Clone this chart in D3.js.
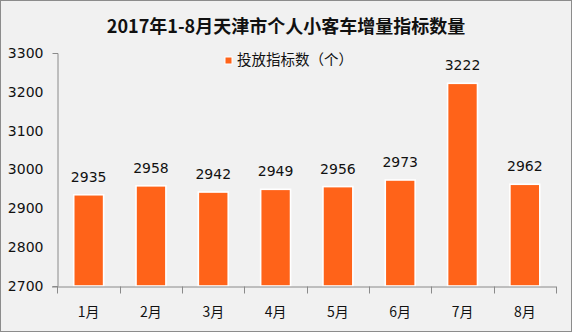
<!DOCTYPE html>
<html lang="zh">
  <head>
    <meta charset="utf-8">
    <title>2017年1-8月天津市个人小客车增量指标数量</title>
    <script type="text/javascript" src="https://cdn.jsdelivr.net/npm/d3@7"></script>
    <style type="text/css">
      body { margin: 0; }
      text { font-family: "DejaVu Sans", "Noto Sans CJK SC", sans-serif; fill: #111; }
      .cjk { font-family: "Noto Sans CJK SC", sans-serif; }
      .axis path, .axis line { stroke: #8a8a8a; }
    </style>
  </head>
  <body>
    <script type="text/javascript">

      //Data
      var months = ["1月", "2月", "3月", "4月", "5月", "6月", "7月", "8月"];
      var quota = [2935, 2958, 2942, 2949, 2956, 2973, 3222, 2962];
      var yTicks = [2700, 2800, 2900, 3000, 3100, 3200, 3300];

      var w = 572;
      var h = 332;
      var barColor = "#ff6319";

      var svg = d3.select("body")
            .append("svg")
            .attr("width", w)
            .attr("height", h);

      //Background and frame
      svg.append("rect")
         .attr("x", 0.5).attr("y", 0.5)
         .attr("width", w - 1).attr("height", h - 1)
         .attr("fill", "#f1f1f1")
         .attr("stroke", "#8c8c8c");

      //Title
      svg.append("text")
         .attr("class", "cjk")
         .attr("x", 286)
         .attr("y", 33)
         .attr("text-anchor", "middle")
         .style("font-size", "18px")
         .style("font-weight", "bold")
         .text("2017年1-8月天津市个人小客车增量指标数量");

      //Scales
      var xScale = d3.scaleBand()
               .domain(months)
               .range([57.5, 556])
               .paddingInner(0.52)
               .paddingOuter(0.26);

      var yScale = d3.scaleLinear()
               .domain([2700, 3300])
               .range([286, 53]);

      //Bars
      svg.selectAll("rect.bar")
         .data(quota)
         .enter()
         .append("rect")
         .attr("class", "bar")
         .attr("x", function(d, i) { return xScale(months[i]); })
         .attr("y", function(d) { return yScale(d); })
         .attr("width", xScale.bandwidth())
         .attr("height", function(d) { return yScale(2700) - yScale(d); })
         .attr("fill", barColor)
         .attr("stroke", "#fff")
         .attr("stroke-width", 1.6);

      //Value labels
      svg.selectAll("text.val")
         .data(quota)
         .enter()
         .append("text")
         .attr("class", "val")
         .attr("x", function(d, i) { return xScale(months[i]) + xScale.bandwidth() / 2; })
         .attr("y", function(d) { return yScale(d) - 13; })
         .attr("text-anchor", "middle")
         .style("font-size", "14px")
         .text(function(d) { return d; });

      //Y axis
      var yAxis = d3.axisLeft(yScale)
                .tickValues(yTicks)
                .tickFormat(d3.format("d"))
                .tickSizeInner(0)
                .tickSizeOuter(5)
                .tickPadding(14);

      var gy = svg.append("g")
         .attr("class", "axis")
         .attr("transform", "translate(57.5,0)")
         .call(yAxis);
      gy.selectAll("text")
         .style("font-size", "14px")
         .style("font-family", "'DejaVu Sans', sans-serif")
         .attr("fill", "#111");

      //X axis with ticks between categories
      var xAxis = d3.axisBottom(xScale)
                .tickSizeInner(0)
                .tickSizeOuter(0)
                .tickPadding(21);

      var gx = svg.append("g")
         .attr("class", "axis")
         .attr("transform", "translate(0,286.5)")
         .call(xAxis);
      gx.select("path.domain").attr("d", "M52,0.5H556");
      gx.selectAll("text")
         .attr("class", "cjk")
         .style("font-size", "14px")
         .attr("fill", "#111");

      var step = xScale.step();
      var bounds = months.map(function(m) { return xScale(m) - step * 0.26; });
      bounds.push(xScale(months[months.length - 1]) + xScale.bandwidth() + step * 0.26);
      gx.selectAll("line.sep")
        .data(bounds)
        .enter()
        .append("line")
        .attr("class", "sep")
        .attr("x1", function(d) { return Math.round(d) + 0.5; })
        .attr("x2", function(d) { return Math.round(d) + 0.5; })
        .attr("y1", 0)
        .attr("y2", 7);

      //Legend
      var legend = svg.append("g").attr("transform", "translate(225,57)");
      legend.append("rect")
         .attr("width", 7).attr("height", 7)
         .attr("fill", barColor)
         .attr("stroke", "#fff")
         .attr("stroke-width", 1);
      legend.append("text")
         .attr("class", "cjk")
         .attr("x", 12)
         .attr("y", 8)
         .style("font-size", "14.5px")
         .text("投放指标数（个）");

    </script>
  </body>
</html>
